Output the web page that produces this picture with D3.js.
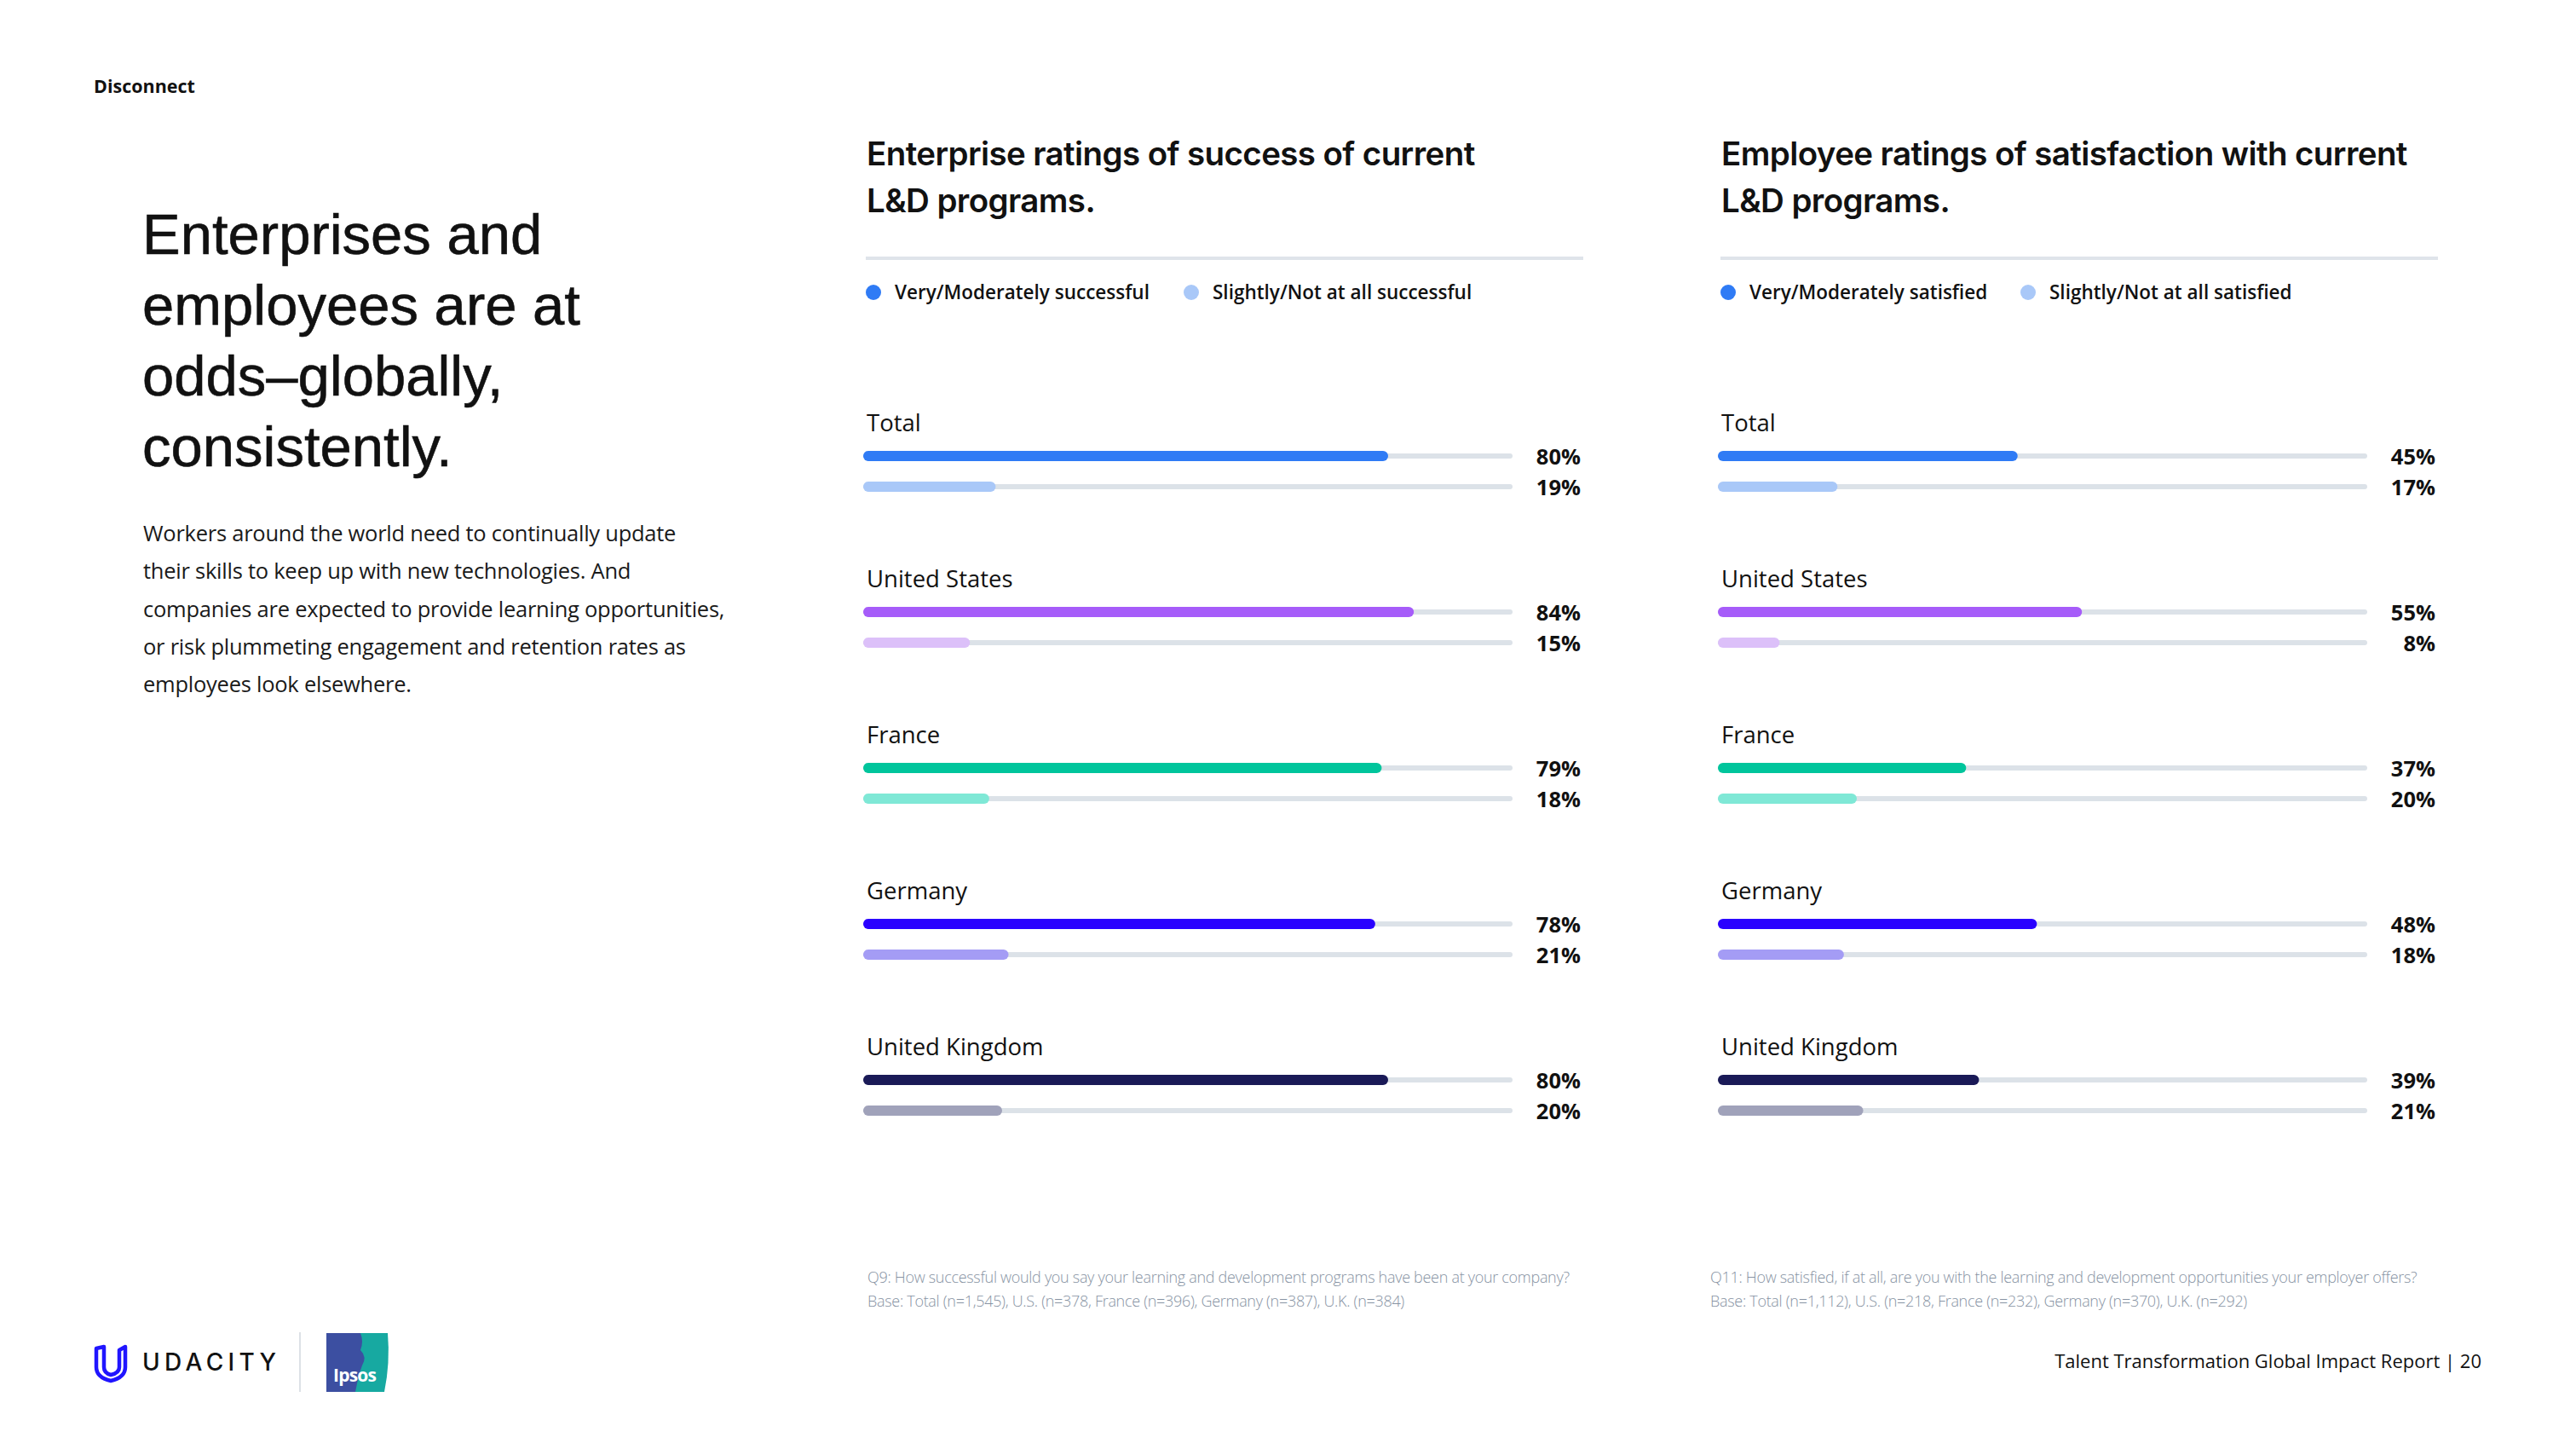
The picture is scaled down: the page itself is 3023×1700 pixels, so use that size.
<!DOCTYPE html>
<html>
<head>
<meta charset="utf-8">
<script src="https://cdn.jsdelivr.net/npm/d3@7"></script>
<style>
  body { margin: 0; background: #fff; }
  svg { display: block; }
</style>
</head>
<body>
<div id="chart"></div>
<script>
// datos de las dos graficas
const categorias = ["Total", "United States", "France", "Germany", "United Kingdom"];
const empresaAlto = [80, 84, 79, 78, 80];
const empresaBajo = [19, 15, 18, 21, 20];
const empleadoAlto = [45, 55, 37, 48, 39];
const empleadoBajo = [17, 8, 20, 18, 21];
const coloresFuertes = ["#2f7bf5", "#a65cf9", "#00c59c", "#2a00ff", "#1a1a57"];
const coloresSuaves = ["#a9c8f8", "#dcc0f9", "#7fe8d6", "#a49cf5", "#a0a2ba"];

const paneles = [
  {
    x0: 1013,
    titulo: ["Enterprise ratings of success of current", "L&D programs."],
    leyenda: ["Very/Moderately successful", "Slightly/Not at all successful"],
    leyendaX: [0, 373],
    alto: empresaAlto,
    bajo: empresaBajo,
    nota: ["Q9: How successful would you say your learning and development programs have been at your company?",
           "Base: Total (n=1,545), U.S. (n=378, France (n=396), Germany (n=387), U.K. (n=384)"],
    notaX: 1018
  },
  {
    x0: 2016,
    titulo: ["Employee ratings of satisfaction with current", "L&D programs."],
    leyenda: ["Very/Moderately satisfied", "Slightly/Not at all satisfied"],
    leyendaX: [0, 352],
    alto: empleadoAlto,
    bajo: empleadoBajo,
    nota: ["Q11: How satisfied, if at all, are you with the learning and development opportunities your employer offers?",
           "Base: Total (n=1,112), U.S. (n=218, France (n=232), Germany (n=370), U.K. (n=292)"],
    notaX: 2007
  }
];

const svg = d3.select("#chart")
  .append("svg")
  .attr("width", 3023)
  .attr("height", 1700);

svg.append("rect").attr("width", 3023).attr("height", 1700).attr("fill", "#fff");

// texto de la izquierda
svg.append("text")
  .attr("x", 110).attr("y", 109)
  .attr("font-family", "Open Sans").attr("font-weight", 700).attr("font-size", 21.5)
  .attr("fill", "#111")
  .text("Disconnect");

const titular = ["Enterprises and", "employees are at", "odds\u2013globally,", "consistently."];
svg.append("g").selectAll("text")
  .data(titular)
  .join("text")
  .attr("x", 167)
  .attr("y", (d, i) => 298 + i * 83)
  .attr("font-family", "Liberation Sans").attr("font-size", 67)
  .attr("fill", "#111")
  .attr("stroke", "#111").attr("stroke-width", 0.6)
  .text(d => d);

const parrafo = [
  "Workers around the world need to continually update",
  "their skills to keep up with new technologies. And",
  "companies are expected to provide learning opportunities,",
  "or risk plummeting engagement and retention rates as",
  "employees look elsewhere."
];
svg.append("g").selectAll("text")
  .data(parrafo)
  .join("text")
  .attr("x", 168)
  .attr("y", (d, i) => 635 + i * 44.3)
  .attr("font-family", "Open Sans").attr("font-size", 25.5)
  .attr("letter-spacing", -0.25)
  .attr("fill", "#1a1a1a")
  .text(d => d);

// escalas
const anchoPista = 762;
const x = d3.scaleLinear().domain([0, 100]).range([12, 767]);
const y = d3.scalePoint().domain(categorias).range([535, 1267]);
const separacion = 36;

function graficarPanel(p) {
  const g = svg.append("g").attr("transform", `translate(${p.x0},0)`);

  g.selectAll(".titulo")
    .data(p.titulo)
    .join("text")
    .attr("class", "titulo")
    .attr("x", 4)
    .attr("y", (d, i) => 194 + i * 55)
    .attr("font-family", "Inter").attr("font-weight", 600).attr("font-size", 38.5)
    .attr("letter-spacing", -0.6)
    .attr("fill", "#111")
    .text(d => d);

  g.append("rect")
    .attr("x", 3).attr("y", 301)
    .attr("width", 842).attr("height", 4)
    .attr("fill", "#dfe4ea");

  const ley = g.selectAll(".ley")
    .data(p.leyenda)
    .join("g")
    .attr("class", "ley")
    .attr("transform", (d, i) => `translate(${12 + p.leyendaX[i]},343)`);
  ley.append("circle").attr("r", 9).attr("fill", (d, i) => i == 0 ? coloresFuertes[0] : coloresSuaves[0]);
  ley.append("text")
    .attr("x", 25).attr("y", 8)
    .attr("font-family", "Open Sans").attr("font-weight", 600).attr("font-size", 22.5)
    .attr("fill", "#111")
    .text(d => d);

  const filas = g.selectAll(".fila")
    .data(categorias)
    .join("g")
    .attr("class", "fila")
    .attr("transform", d => `translate(0,${y(d)})`);

  filas.append("text")
    .attr("x", 4).attr("y", -29)
    .attr("font-family", "Open Sans").attr("font-size", 27.5)
    .attr("fill", "#111")
    .text(d => d);

  // pistas grises
  [0, separacion].forEach(dy => {
    filas.append("rect")
      .attr("x", 0).attr("y", dy - 3)
      .attr("width", anchoPista).attr("height", 6)
      .attr("rx", 3)
      .attr("fill", "#dce2e8");
  });

  filas.append("rect")
    .attr("x", 0).attr("y", -6)
    .attr("width", (d, i) => x(p.alto[i])).attr("height", 12)
    .attr("rx", 6)
    .attr("fill", (d, i) => coloresFuertes[i]);

  filas.append("rect")
    .attr("x", 0).attr("y", separacion - 6)
    .attr("width", (d, i) => x(p.bajo[i])).attr("height", 12)
    .attr("rx", 6)
    .attr("fill", (d, i) => coloresSuaves[i]);

  filas.append("text")
    .attr("x", 842).attr("y", 10)
    .attr("text-anchor", "end")
    .attr("font-family", "Open Sans").attr("font-weight", 700).attr("font-size", 25.5)
    .attr("fill", "#111")
    .text((d, i) => p.alto[i] + "%");

  filas.append("text")
    .attr("x", 842).attr("y", separacion + 10)
    .attr("text-anchor", "end")
    .attr("font-family", "Open Sans").attr("font-weight", 700).attr("font-size", 25.5)
    .attr("fill", "#111")
    .text((d, i) => p.bajo[i] + "%");

  svg.append("g").selectAll("text")
    .data(p.nota)
    .join("text")
    .attr("x", p.notaX)
    .attr("y", (d, i) => 1505 + i * 28)
    .attr("font-family", "Open Sans").attr("font-weight", 300).attr("font-size", 18)
    .attr("letter-spacing", -0.3)
    .attr("fill", "#8793a3")
    .text(d => d);
}

paneles.forEach(graficarPanel);

// pie de pagina
svg.append("text")
  .attr("x", 2912).attr("y", 1605)
  .attr("text-anchor", "end")
  .attr("font-family", "Open Sans").attr("font-size", 22)
  .attr("fill", "#111")
  .text("Talent Transformation Global Impact Report | 20");

// logo Udacity
const logo = svg.append("g").attr("transform", "translate(110,1578)");
logo.append("path")
  .attr("d", "M3,4 L3,26 Q3,38 20,42 Q37,38 37,26 L37,2 L30,6 L30,26 Q30,33 20,35 Q12,33 12,26 L12,2 Z")
  .attr("fill", "none")
  .attr("stroke", "#2015ff")
  .attr("stroke-width", 4.5)
  .attr("stroke-linejoin", "round");
svg.append("text")
  .attr("x", 167).attr("y", 1608)
  .attr("font-family", "Inter").attr("font-weight", 500).attr("font-size", 28)
  .attr("letter-spacing", 5.3)
  .attr("fill", "#111")
  .text("UDACITY");
svg.append("rect")
  .attr("x", 351).attr("y", 1563)
  .attr("width", 2).attr("height", 70)
  .attr("fill", "#dde1e6");

// logo Ipsos
const ipsos = svg.append("g").attr("transform", "translate(383,1564)");
ipsos.append("path")
  .attr("d", "M0,0 L72,0 Q75,35 68,69 L0,69 Z")
  .attr("fill", "#17a9a1");
ipsos.append("path")
  .attr("d", "M0,0 L40,0 Q44,10 40,20 Q48,28 42,38 Q38,48 34,69 L0,69 Z")
  .attr("fill", "#3c4fa1");
ipsos.append("text")
  .attr("x", 8).attr("y", 57)
  .attr("font-family", "Open Sans").attr("font-weight", 700).attr("font-size", 21)
  .attr("letter-spacing", -0.8)
  .attr("fill", "#fff")
  .text("Ipsos");
</script>
</body>
</html>
